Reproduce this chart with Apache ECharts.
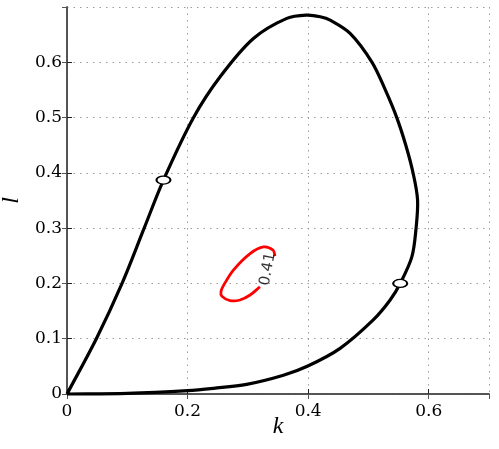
<!DOCTYPE html>
<html>
<head>
<meta charset="utf-8">
<script src="https://cdn.jsdelivr.net/npm/echarts@6/dist/echarts.min.js"></script>
<style>
  html, body { margin: 0; padding: 0; background: #fff; }
  #chart { width: 499px; height: 449px; }
</style>
</head>
<body>
<div id="chart"></div>
<script>
// black closed curve (k, l), from origin along the bottom, round the top, back down the left
const curveK = [0, 0.1, 0.2, 0.243, 0.298, 0.359, 0.3995, 0.453, 0.508, 0.536, 0.5527, 0.572, 0.579, 0.5815, 0.574, 0.562, 0.547, 0.528, 0.506, 0.470, 0.4365, 0.420, 0.398, 0.3646, 0.3092, 0.254, 0.2097, 0.16, 0.128, 0.0913, 0.0487, 0];
const curveL = [0, 0.001, 0.006, 0.0103, 0.0175, 0.034, 0.0506, 0.0826, 0.134, 0.170, 0.2, 0.248, 0.2996, 0.351, 0.4, 0.45, 0.5, 0.55, 0.6, 0.652, 0.6763, 0.6823, 0.6853, 0.6794, 0.643, 0.5738, 0.4997, 0.387, 0.3, 0.2, 0.1, 0];
// red contour piece (level 0.41), broken where its label sits
const loopK = [0.320, 0.3037, 0.287, 0.2705, 0.2567, 0.2555, 0.2595, 0.276, 0.3037, 0.326, 0.342, 0.345];
const loopL = [0.194, 0.179, 0.170, 0.169, 0.177, 0.186, 0.196, 0.224, 0.254, 0.266, 0.260, 0.2495];
const levelLabel = "0.41";
const levelPos = [0.333, 0.226];
// white marker points on the black curve
const markK = [0.16, 0.5527];
const markL = [0.387, 0.2];

const zip = (a, b) => a.map((v, i) => [v, b[i]]);

// smooth path through pixel points (tangents scaled by segment lengths)
function splinePath(pts) {
  const d = (a, b) => Math.hypot(b[0] - a[0], b[1] - a[1]) || 1e-6;
  let s = "M" + pts[0][0] + "," + pts[0][1];
  for (let i = 0; i < pts.length - 1; i++) {
    const p0 = pts[i - 1] || pts[i], p1 = pts[i], p2 = pts[i + 1], p3 = pts[i + 2] || pts[i + 1];
    const d01 = d(p0, p1), d12 = d(p1, p2), d23 = d(p2, p3);
    const f1 = d12 / (d01 + d12) / 3, f2 = d12 / (d12 + d23) / 3;
    const c1 = [p1[0] + (p2[0] - p0[0]) * f1, p1[1] + (p2[1] - p0[1]) * f1];
    const c2 = [p2[0] - (p3[0] - p1[0]) * f2, p2[1] - (p3[1] - p1[1]) * f2];
    s += " C" + c1[0] + "," + c1[1] + " " + c2[0] + "," + c2[1] + " " + p2[0] + "," + p2[1];
  }
  return s;
}

function curveSeries(xs, ys, color, width) {
  return {
    type: "custom", data: [[xs[0], ys[0]]], clip: false, z: 3,
    renderItem: function (params, api) {
      const pts = xs.map((x, i) => api.coord([x, ys[i]]));
      return {
        type: "path",
        shape: { pathData: splinePath(pts) },
        style: { fill: "none", stroke: color, lineWidth: width, lineJoin: "round" }
      };
    }
  };
}

const tickFont = { fontFamily: "DejaVu Serif", fontSize: 17, color: "#000" };
const gridLine = { show: true, lineStyle: { type: [1.5, 5], color: "#9a9a9a", width: 1 } };

const chart = echarts.init(document.getElementById("chart"));
chart.setOption({
  animation: false,
  grid: { left: 67, right: 10, top: 7, bottom: 55, containLabel: false, outerBoundsMode: "none" },
  xAxis: [
    {
      type: "value", min: 0, max: 0.7, interval: 0.2, position: "bottom",
      axisLine: { lineStyle: { color: "#222", width: 1.5 } },
      axisTick: { inside: true, length: 5, lineStyle: { color: "#222" } },
      axisLabel: Object.assign({ margin: 9, showMaxLabel: false }, tickFont),
      splitLine: gridLine,
      name: "k", nameLocation: "middle", nameGap: 21, nameMoveOverlap: false,
      nameTextStyle: { fontFamily: "Liberation Serif", fontStyle: "italic", fontSize: 24, color: "#000" }
    },
    {
      type: "value", min: 0, max: 0.7, interval: 0.2, position: "top",
      axisLine: { lineStyle: { color: "#555", width: 1.5 } },
      axisTick: { inside: true, length: 5, lineStyle: { color: "#555" } },
      axisLabel: { show: false },
      splitLine: { show: false }
    }
  ],
  yAxis: [
    {
      type: "value", min: 0, max: 0.7, interval: 0.1, position: "left",
      axisLine: { lineStyle: { color: "#222", width: 1.5 } },
      axisTick: { inside: true, length: 5, lineStyle: { color: "#222" } },
      axisLabel: Object.assign({ margin: 5, showMaxLabel: false }, tickFont),
      splitLine: gridLine,
      name: "l", nameLocation: "middle", nameGap: 40, nameRotate: 90,
      nameTextStyle: { fontFamily: "Liberation Serif", fontStyle: "italic", fontSize: 24, color: "#000" }
    },
    {
      type: "value", min: 0, max: 0.7, interval: 0.1, position: "right",
      axisLine: { lineStyle: { color: "#555", width: 1.5 } },
      axisTick: { inside: true, length: 5, lineStyle: { color: "#555" } },
      axisLabel: { show: false },
      splitLine: { show: false }
    }
  ],
  series: [
    curveSeries(curveK, curveL, "#000", 3.2),
    curveSeries(loopK, loopL, "#ff0000", 2.8),
    {
      type: "scatter", data: [levelPos], symbolSize: 0,
      label: {
        show: true, formatter: levelLabel, position: "inside", rotate: 79,
        fontFamily: "DejaVu Sans", fontSize: 15, color: "#000"
      }, z: 4
    },
    {
      type: "scatter", data: zip(markK, markL), symbol: "circle", symbolSize: [14, 8],
      itemStyle: { color: "#fff", borderColor: "#000", borderWidth: 1.6, opacity: 1 }, z: 5
    }
  ]
});
</script>
</body>
</html>
